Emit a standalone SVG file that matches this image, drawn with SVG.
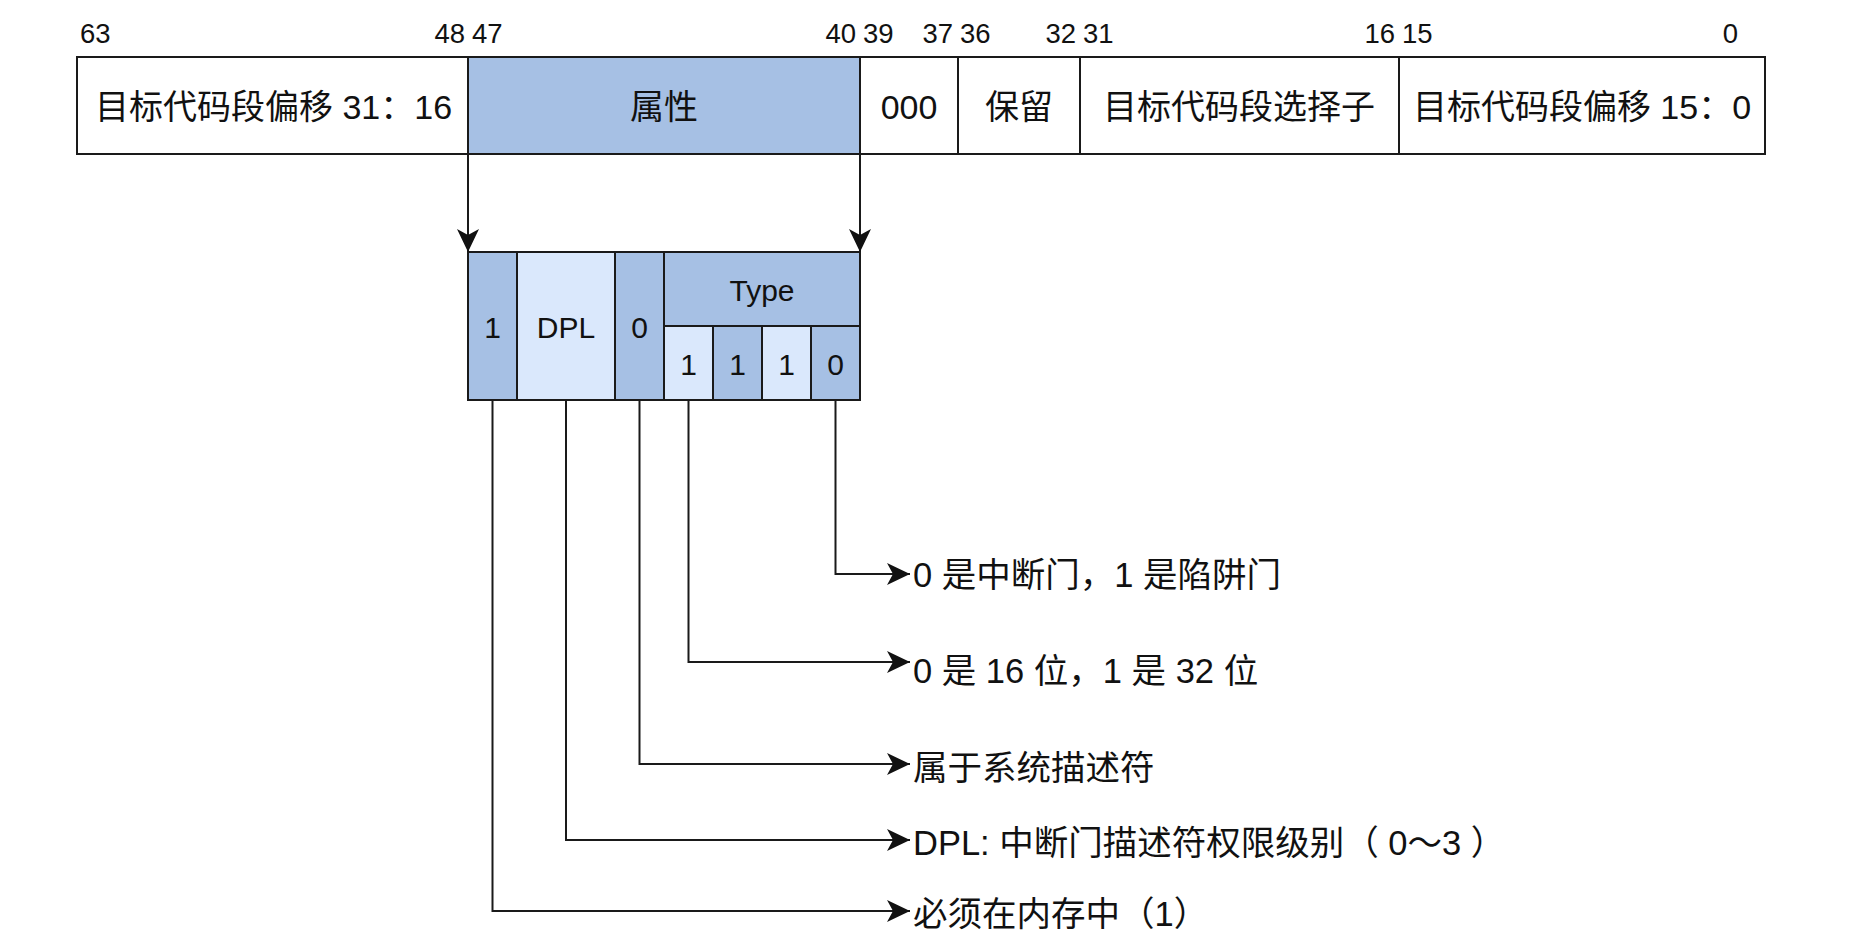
<svg xmlns="http://www.w3.org/2000/svg" width="1854" height="935" viewBox="0 0 1854 935">
<style>
.cell{stroke:#1a1a1a;stroke-width:2}
.w{fill:#ffffff}
.d{fill:#a6c0e4}
.l{fill:#dae8fc}
.t{font-family:"Liberation Sans","Noto Sans CJK SC",sans-serif;fill:#111;dominant-baseline:central}
.big{font-size:34px}
.lab{font-size:34.5px}
.mid{font-size:30px}
.bit{font-size:27.5px}
.c{text-anchor:middle}
.e{text-anchor:end}
.conn{fill:none;stroke:#1a1a1a;stroke-width:2}
</style>
<defs>
<marker id="arr" markerUnits="userSpaceOnUse" markerWidth="26" markerHeight="24" refX="23" refY="11" orient="auto">
<path d="M0,0 L23,11 L0,22 L6,11 Z" fill="#111"/>
</marker>
</defs>
<rect width="1854" height="935" fill="#ffffff"/>

<g id="bit-numbers">
<text class="t bit" x="80" y="33">63</text>
<text class="t bit e" x="465" y="33">48</text>
<text class="t bit" x="472" y="33">47</text>
<text class="t bit e" x="856" y="33">40</text>
<text class="t bit" x="863" y="33">39</text>
<text class="t bit e" x="953" y="33">37</text>
<text class="t bit" x="960" y="33">36</text>
<text class="t bit e" x="1076" y="33">32</text>
<text class="t bit" x="1083" y="33">31</text>
<text class="t bit e" x="1395" y="33">16</text>
<text class="t bit" x="1402" y="33">15</text>
<text class="t bit e" x="1738" y="33">0</text>
</g>

<g id="gate-descriptor">
<rect class="cell w" x="77" y="57" width="391" height="97"/>
<text class="t big" x="95" y="107">目标代码段偏移 31：16</text>
<rect class="cell d" x="468" y="57" width="392" height="97"/>
<text class="t big c" x="664" y="107">属性</text>
<rect class="cell w" x="860" y="57" width="98" height="97"/>
<text class="t big c" x="909" y="107">000</text>
<rect class="cell w" x="958" y="57" width="122" height="97"/>
<text class="t big c" x="1019" y="107">保留</text>
<rect class="cell w" x="1080" y="57" width="319" height="97"/>
<text class="t big c" x="1239" y="107">目标代码段选择子</text>
<rect class="cell w" x="1399" y="57" width="366" height="97"/>
<text class="t big c" x="1582" y="107">目标代码段偏移 15：0</text>
</g>

<g id="attribute">
<rect class="cell d" x="468" y="252" width="49" height="148"/>
<text class="t mid c" x="492.5" y="327">1</text>
<rect class="cell l" x="517" y="252" width="98" height="148"/>
<text class="t mid c" x="566" y="327">DPL</text>
<rect class="cell d" x="615" y="252" width="49" height="148"/>
<text class="t mid c" x="639.5" y="327">0</text>
<rect class="cell d" x="664" y="252" width="196" height="74"/>
<text class="t mid c" x="762" y="290">Type</text>
<rect class="cell l" x="664" y="326" width="49" height="74"/>
<text class="t mid c" x="688.5" y="364">1</text>
<rect class="cell d" x="713" y="326" width="49" height="74"/>
<text class="t mid c" x="737.5" y="364">1</text>
<rect class="cell l" x="762" y="326" width="49" height="74"/>
<text class="t mid c" x="786.5" y="364">1</text>
<rect class="cell d" x="811" y="326" width="49" height="74"/>
<text class="t mid c" x="835.5" y="364">0</text>
</g>

<g id="connectors">
<path class="conn" d="M468,154 L468,252" marker-end="url(#arr)"/>
<path class="conn" d="M860,154 L860,252" marker-end="url(#arr)"/>
<path class="conn" d="M835.5,400 L835.5,574 L910,574" marker-end="url(#arr)"/>
<path class="conn" d="M688.5,400 L688.5,662 L910,662" marker-end="url(#arr)"/>
<path class="conn" d="M639.5,400 L639.5,764 L910,764" marker-end="url(#arr)"/>
<path class="conn" d="M566,400 L566,840 L910,840" marker-end="url(#arr)"/>
<path class="conn" d="M492.5,400 L492.5,911 L910,911" marker-end="url(#arr)"/>
</g>

<g id="labels">
<text class="t lab" x="913" y="575">0 是中断门，1 是陷阱门</text>
<text class="t lab" x="913" y="671">0 是 16 位，1 是 32 位</text>
<text class="t lab" x="913" y="768">属于系统描述符</text>
<text class="t lab" x="913" y="843">DPL: 中断门描述符权限级别（ 0～3 ）</text>
<text class="t lab" x="913" y="914">必须在内存中（1）</text>
</g>
</svg>
